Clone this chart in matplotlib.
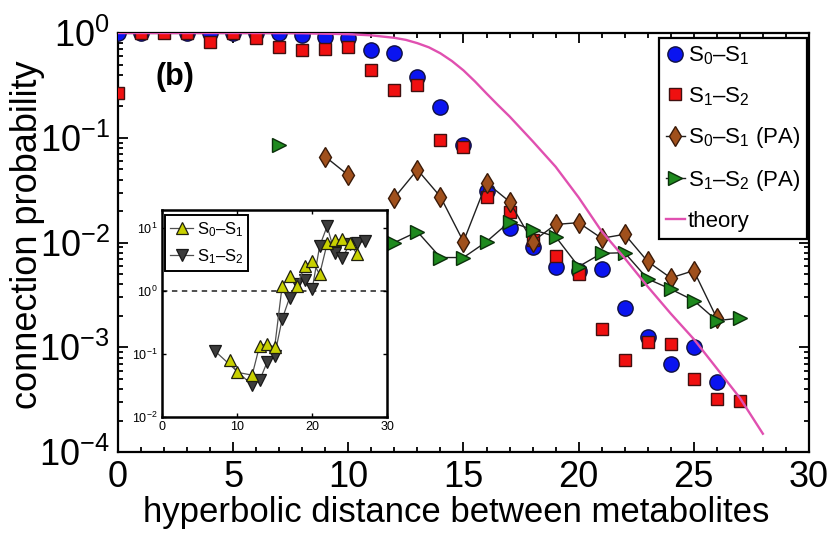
import numpy as np
import matplotlib.pyplot as plt
from matplotlib.ticker import MultipleLocator, LogLocator, NullFormatter, NullLocator

plt.rcParams['font.family'] = ['Liberation Sans', 'DejaVu Sans']
plt.rcParams['mathtext.fontset'] = 'custom'
plt.rcParams['mathtext.rm'] = 'Liberation Sans'
plt.rcParams['mathtext.it'] = 'Liberation Sans:italic'
plt.rcParams['mathtext.bf'] = 'Liberation Sans:bold'

nan = np.nan

# main panel: connection probability vs hyperbolic distance
x_s01 = [0, 1, 3, 4, 5, 6, 7, 8, 9, 10, 11, 12, 13, 14, 15, 16, 17, 18, 19, 20, 21, 22, 23, 24, 25, 26]
p_s01 = [1.0, 1.0, 1.0, 1.0, 1.0, 1.0, 1.0, 0.96, 0.92, 0.89, 0.69, 0.645, 0.38, 0.197, 0.086, 0.031,
         0.0139, 0.009, 0.0058, 0.0053, 0.0056, 0.0024, 0.00125, 0.0007, 0.00101, 0.00047]

x_s12 = list(range(28))
p_s12 = [0.27, 1.0, 1.0, 1.0, 0.83, 1.0, 0.89, 0.74, 0.69, 0.71, 0.74, 0.44, 0.286, 0.32, 0.096, 0.082,
         0.0275, 0.0197, 0.0105, 0.0074, 0.005, 0.0015, 0.00075, 0.00113, 0.00107, 0.0005, 0.00032, 0.00031]

x_s01_pa = [9, 10, 11, 12, 13, 14, 15, 16, 17, 18, 19, 20, 21, 22, 23, 24, 25, 26]
p_s01_pa = [0.066, 0.044, nan, 0.0268, 0.0496, 0.0274, 0.0102, 0.0372, 0.0246, 0.0102, 0.0149, 0.0155,
            0.011, 0.012, 0.0066, 0.0046, 0.0054, 0.0019]

x_s12_pa = [7, 8, 11, 12, 13, 14, 15, 16, 17, 18, 19, 20, 21, 22, 23, 24, 25, 26, 27]
p_s12_pa = [0.086, nan, 0.012, 0.01, 0.0127, 0.0072, 0.0072, 0.0102, 0.0158, 0.0133, 0.0114, 0.0059,
            0.0079, 0.008, 0.0045, 0.0036, 0.0028, 0.0018, 0.0019]

x_theory = [0, 2, 4, 6, 8, 10, 11, 12, 12.5, 13, 13.5, 14, 14.5, 15, 15.5, 16, 16.5, 17, 18, 19, 20,
            21, 22, 23, 24, 25, 26, 27, 28]
p_theory = [1.0, 1.0, 1.0, 1.0, 0.995, 0.975, 0.95, 0.9, 0.86, 0.8, 0.73, 0.64, 0.54, 0.44, 0.345, 0.265,
            0.205, 0.16, 0.093, 0.053, 0.027, 0.0128, 0.0071, 0.0038, 0.0021, 0.0012, 0.00063, 0.00033,
            0.00015]

# inset: ratio PA / real
xi_s01 = [9, 10, 12, 13, 14, 15, 16, 17, 18, 19, 20, 21, 22, 23, 24, 25, 26]
ri_s01 = [0.0785, 0.051, 0.046, 0.135, 0.144, 0.127, 1.19, 1.71, 1.2, 2.46, 2.95, 1.82, 5.6, 6.3, 6.5, 5.6, 3.8]
xi_s12 = [7, 12, 13, 14, 15, 16, 17, 18, 19, 20, 21, 22, 23, 24, 25, 26, 27]
ri_s12 = [0.112, 0.032, 0.038, 0.074, 0.094, 0.355, 0.78, 1.26, 1.5, 1.05, 5.1, 10.5, 4.0, 3.3, 5.4, 5.6, 6.1]

fig = plt.figure(figsize=(8.4, 5.37), dpi=100)
ax = fig.add_axes([0.1405, 0.158, 0.8225, 0.7805])

ax.plot(x_s01, p_s01, marker='o', ms=11, mfc='#0a14f0', mec='#101040', mew=1.0, ls='none',
        label=r'$\mathregular{S_0}$–$\mathregular{S_1}$', zorder=3)
ax.plot(x_s12, p_s12, marker='s', ms=8.5, mfc='#f01010', mec='#401010', mew=1.0, ls='none',
        label=r'$\mathregular{S_1}$–$\mathregular{S_2}$', zorder=4)
ax.plot(x_s01_pa, p_s01_pa, marker='d', ms=10.5, mfc='#a0501c', mec='#3a1a08', mew=1.0, ls='-',
        color='#202020', lw=1.0, label=r'$\mathregular{S_0}$–$\mathregular{S_1}$ (PA)', zorder=5)
ax.plot(x_s12_pa, p_s12_pa, marker='>', ms=10.5, mfc='#1e8a1e', mec='#0a300a', mew=1.0, ls='-',
        color='#202020', lw=1.0, label=r'$\mathregular{S_1}$–$\mathregular{S_2}$ (PA)', zorder=6)
ax.plot(x_theory, p_theory, '-', color='#e050b0', lw=1.7, label='theory', zorder=7)

ax.set_yscale('log')
ax.set_xlim(0, 30)
ax.set_ylim(1e-4, 1)
ax.xaxis.set_major_locator(MultipleLocator(5))
ax.xaxis.set_minor_locator(MultipleLocator(1))
ax.yaxis.set_major_locator(LogLocator(base=10, numticks=10))
ax.yaxis.set_minor_locator(LogLocator(base=10, subs=np.arange(2, 10), numticks=10))
ax.yaxis.set_minor_formatter(NullFormatter())
ax.tick_params(which='both', direction='in', top=True, right=True, width=1.3)
ax.tick_params(which='major', length=7, labelsize=26, pad=6)
ax.tick_params(which='minor', length=3.5)
for s in ax.spines.values():
    s.set_linewidth(1.6)

ax.set_xlabel('hyperbolic distance between metabolites', fontsize=25)
ax.xaxis.set_label_coords(0.49, -0.105)
ax.set_ylabel('connection probability', fontsize=26)
ax.yaxis.set_label_coords(-0.105, 0.52)

ax.text(0.082, 0.895, '(b)', transform=ax.transAxes, fontsize=22, fontweight='bold',
        ha='center', va='center')

leg = ax.legend(loc='upper right', bbox_to_anchor=(0.997, 0.988), borderaxespad=0,
                fontsize=16, handlelength=0.85, handletextpad=0.15, labelspacing=0.8,
                borderpad=0.3, fancybox=False, framealpha=1, edgecolor='black')
leg.get_frame().set_linewidth(1.6)
leg.set_zorder(10)

# inset
axi = fig.add_axes([0.193, 0.2235, 0.2679, 0.3855])
axi.set_zorder(20)
axi.axhline(1, color='#404040', ls=(0, (3, 2.5)), lw=1.3, zorder=1)
axi.plot(xi_s01, ri_s01, marker='^', ms=9, mfc='#c8d000', mec='#202010', mew=0.9, ls='-',
         color='#505050', lw=0.9, label=r'$\mathregular{S_0}$–$\mathregular{S_1}$', zorder=3)
axi.plot(xi_s12, ri_s12, marker='v', ms=9, mfc='#3c3c3c', mec='#181818', mew=0.9, ls='-',
         color='#505050', lw=0.9, label=r'$\mathregular{S_1}$–$\mathregular{S_2}$', zorder=2)
axi.set_yscale('log')
axi.set_xlim(0, 30)
axi.set_ylim(0.01, 19)
axi.set_xticks([0, 10, 20, 30])
axi.yaxis.set_major_locator(LogLocator(base=10, numticks=10))
axi.yaxis.set_minor_locator(NullLocator())
axi.tick_params(direction='in', top=True, right=True, length=3, width=1, labelsize=9, pad=3)
for s in axi.spines.values():
    s.set_linewidth(1.8)
li = axi.legend(loc='upper left', bbox_to_anchor=(0.013, 0.976), borderaxespad=0, fontsize=12,
                handlelength=1.4, handletextpad=0.2, labelspacing=0.5, borderpad=0.3,
                fancybox=False, framealpha=1, edgecolor='black')
li.get_frame().set_linewidth(1.4)

fig.savefig('out.png', dpi=100)
